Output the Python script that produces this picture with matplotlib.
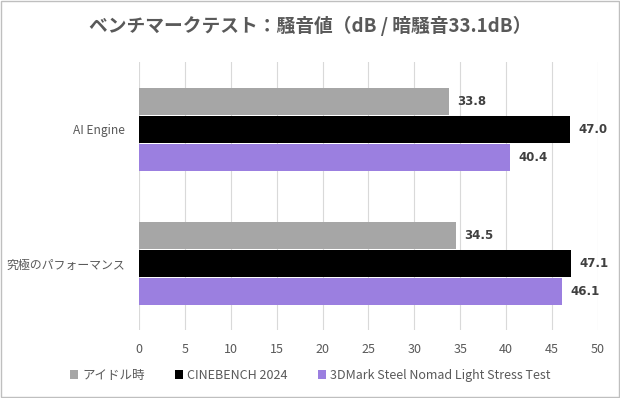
import matplotlib.pyplot as plt
import numpy as np
from matplotlib.patches import Rectangle

plt.rcParams["font.family"] = ["Noto Sans CJK JP", "DejaVu Sans"]

categories = ["AI Engine", "究極のパフォーマンス"]
series_names = ["アイドル時", "CINEBENCH 2024", "3DMark Steel Nomad Light Stress Test"]
idle = [33.8, 34.5]
cinebench = [47.0, 47.1]
steel_nomad = [40.4, 46.1]
colors = ["#a6a6a6", "#000000", "#9b7fe0"]
xticks = [0, 5, 10, 15, 20, 25, 30, 35, 40, 45, 50]

fig = plt.figure(figsize=(6.2, 3.98), dpi=100)
ax = fig.add_axes([0.2242, 0.1696, 0.7403, 0.6734])

y = np.arange(len(categories))
h = 0.207
for i, (vals, name, c) in enumerate(zip([idle, cinebench, steel_nomad], series_names, colors)):
    pos = y + (i - 1) * h
    bars = ax.barh(pos, vals, height=h * 0.96, color=c, label=name, zorder=3)
    for b, v in zip(bars, vals):
        ax.text(v + 0.9, b.get_y() + b.get_height() / 2, f"{v:.1f}",
                va="center", ha="left", fontsize=8.5, fontweight="bold",
                color="#404040", family="DejaVu Sans", zorder=4)

ax.set_ylim(1.5, -0.5)
ax.set_xlim(0, 50)
ax.set_xticks(xticks)
ax.set_yticks(y)
ax.set_yticklabels(categories)
ax.grid(axis="x", color="#d9d9d9", linewidth=0.8, zorder=0)
for s in ax.spines.values():
    s.set_visible(False)
ax.tick_params(axis="both", length=0, labelcolor="#595959")
ax.tick_params(axis="x", pad=9, labelsize=9)
ax.tick_params(axis="y", pad=10, labelsize=8.6)

fig.suptitle("ベンチマークテスト：騒音値（dB / 暗騒音33.1dB）", y=0.96,
             fontsize=13.5, fontweight="bold", color="#595959")

fig.legend(loc="center", bbox_to_anchor=(0.5, 0.057), ncol=3, frameon=False,
           fontsize=9, handlelength=0.7, handleheight=0.7, handletextpad=0.3,
           columnspacing=2.4, labelcolor="#595959")

fig.patches.append(Rectangle((0.001, 0.002), 0.997, 0.995, transform=fig.transFigure,
                             fill=False, edgecolor="#bfbfbf", linewidth=1))

fig.savefig("out.png", dpi=100)
